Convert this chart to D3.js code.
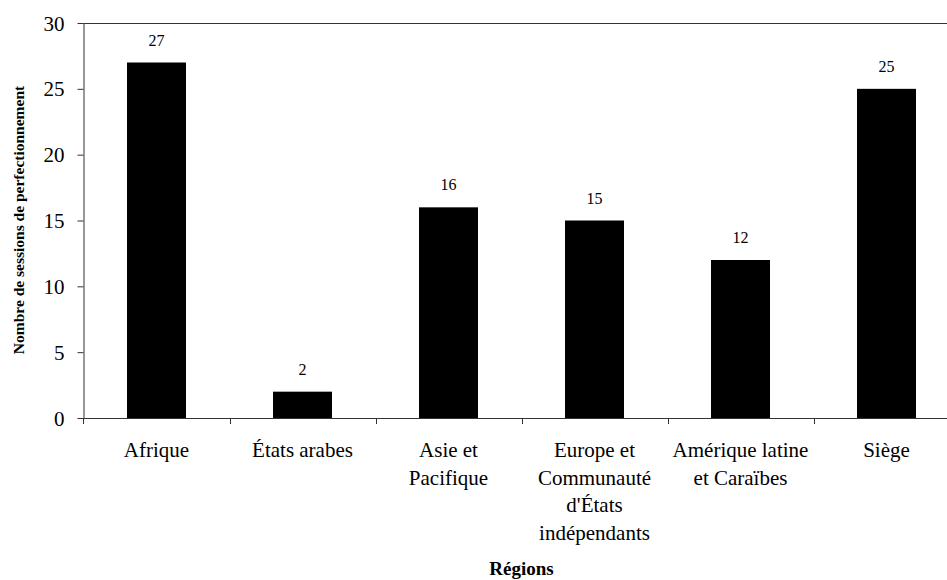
<!DOCTYPE html>
<html>
<head>
<meta charset="utf-8">
<script src="https://cdn.jsdelivr.net/npm/d3@7"></script>
<style>
  html, body { margin: 0; padding: 0; background: #fff; }
  svg { display: block; }
  text { font-family: "Liberation Serif", "Times New Roman", serif; fill: #000; }
</style>
</head>
<body>
<svg id="chart" width="947" height="580"></svg>
<script>
// Regions (category keys) and their wrapped tick labels
const regions = ["Afrique", "États arabes", "Asie et Pacifique",
  "Europe et Communauté d'États indépendants", "Amérique latine et Caraïbes", "Siège"];
const regionLines = [
  ["Afrique"],
  ["États arabes"],
  ["Asie et", "Pacifique"],
  ["Europe et", "Communauté", "d'États", "indépendants"],
  ["Amérique latine", "et Caraïbes"],
  ["Siège"]
];
// Number of training sessions per region
const sessions = [27, 2, 16, 15, 12, 25];
const yTicks = [0, 5, 10, 15, 20, 25, 30];

const svg = d3.select("#chart");
const plotLeft = 83.5, plotRight = 959.5, plotTop = 23, plotBottom = 418;

const x = d3.scaleBand().domain(regions).range([plotLeft, plotRight])
  .paddingInner(0.596).paddingOuter(0.298);
const y = d3.scaleLinear().domain([0, 30]).range([plotBottom, plotTop]);

// top frame line
svg.append("line")
  .attr("x1", plotLeft).attr("x2", 947).attr("y1", plotTop + 0.5).attr("y2", plotTop + 0.5)
  .attr("stroke", "#333").attr("stroke-width", 1);

// bars
svg.append("g").selectAll("rect").data(sessions).join("rect")
  .attr("x", (d, i) => x(regions[i]))
  .attr("y", d => y(d))
  .attr("width", x.bandwidth())
  .attr("height", d => y(0) - y(d))
  .attr("fill", "#000");

// value labels
svg.append("g").selectAll("text").data(sessions).join("text")
  .attr("x", (d, i) => x(regions[i]) + x.bandwidth() / 2)
  .attr("y", d => y(d) - 17)
  .attr("text-anchor", "middle")
  .style("font-size", "16px")
  .text(d => d);

// y axis
const yAxis = svg.append("g").attr("transform", `translate(${plotLeft},0)`)
  .call(d3.axisLeft(y).tickValues(yTicks).tickSize(6).tickSizeOuter(0).tickPadding(13));
yAxis.selectAll("line, path").attr("stroke", "#333");
yAxis.selectAll("text").style("font-size", "21px")
  .style("font-family", "'Liberation Serif', serif").attr("dy", "0.34em");

// x axis: ticks at band boundaries
const xAxis = svg.append("g").attr("transform", `translate(0,${plotBottom})`);
xAxis.append("line").attr("x1", plotLeft).attr("x2", 947).attr("y1", 0.5).attr("y2", 0.5)
  .attr("stroke", "#333");
const bounds = regions.map(r => x(r) - x.step() * x.paddingInner() / 2);
xAxis.selectAll("line.tick").data(bounds).join("line").attr("class", "tick")
  .attr("x1", d => Math.round(d) + 0.5).attr("x2", d => Math.round(d) + 0.5)
  .attr("y1", 0).attr("y2", 6).attr("stroke", "#333");

// category labels
const lab = svg.append("g").selectAll("text").data(regionLines).join("text")
  .attr("x", (d, i) => x(regions[i]) + x.bandwidth() / 2)
  .attr("y", 457)
  .attr("text-anchor", "middle")
  .style("font-size", "21px");
lab.selectAll("tspan").data(d => d).join("tspan")
  .attr("x", function () { return this.parentNode.getAttribute("x"); })
  .attr("dy", (d, j) => j === 0 ? 0 : 27.7)
  .text(d => d);

// axis titles
svg.append("text")
  .attr("x", (plotLeft + plotRight) / 2).attr("y", 575)
  .attr("text-anchor", "middle")
  .style("font-size", "19px").style("font-weight", "bold")
  .text("Régions");

svg.append("text")
  .attr("transform", `translate(24,${(45 + 395) / 2}) rotate(-90)`)
  .attr("text-anchor", "middle")
  .style("font-size", "15.5px").style("font-weight", "bold")
  .text("Nombre de sessions de perfectionnement");
</script>
</body>
</html>
